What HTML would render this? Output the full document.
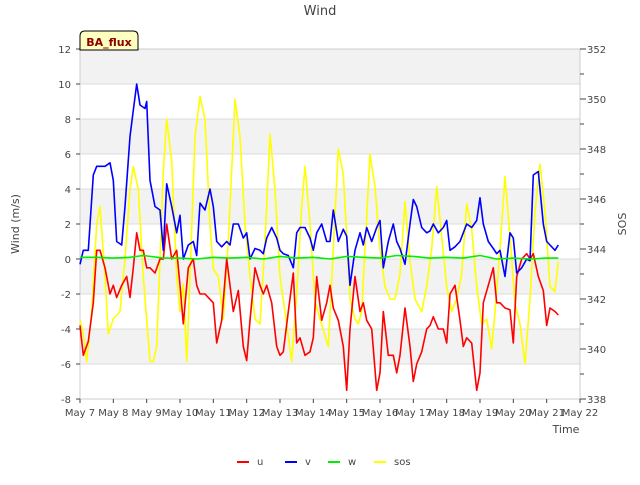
<!DOCTYPE html>
<html><head><meta charset="utf-8">
<style>
body{margin:0;background:#fff;font-family:"Liberation Sans","DejaVu Sans",sans-serif;}
svg text{font-family:"DejaVu Sans","Liberation Sans",sans-serif;}
</style></head>
<body>
<svg id="chart" width="640" height="480" xmlns="http://www.w3.org/2000/svg">
<rect width="640" height="480" fill="#fff"/>
<g id="bands"></g>
<g id="grid"></g>
<rect x="80" y="49" width="500" height="350" fill="none" stroke="#ccc"/>
<g id="series"></g>
<g id="axes"></g>
<text x="320" y="15" text-anchor="middle" font-size="13" fill="#444">Wind</text>
<text x="566" y="433" text-anchor="middle" font-size="11" fill="#444">Time</text>
<text x="19" y="224" text-anchor="middle" font-size="11" fill="#444" transform="rotate(-90 19 224)">Wind (m/s)</text>
<text x="626" y="224" text-anchor="middle" font-size="11" fill="#444" transform="rotate(-90 626 224)">SOS</text>
<g>
<path d="M80 50 L80 36 Q80 31 85 31 L133 31 Q138 31 138 36 L138 50 Z" fill="#ffffc0" stroke="#000"/>
<text x="109" y="46" text-anchor="middle" font-size="11" font-weight="bold" fill="#8b0000">BA_flux</text>
</g>
<g id="legend"></g>
</svg>
<script>
const uDays=[7.0,7.1,7.25,7.4,7.5,7.6,7.75,7.9,8.0,8.1,8.25,8.4,8.5,8.6,8.7,8.8,8.9,9.0,9.1,9.25,9.4,9.5,9.6,9.75,9.9,10.0,10.1,10.25,10.4,10.5,10.6,10.75,10.9,11.0,11.1,11.25,11.4,11.5,11.6,11.75,11.9,12.0,12.1,12.25,12.4,12.5,12.6,12.75,12.9,13.0,13.1,13.25,13.4,13.5,13.6,13.75,13.9,14.0,14.1,14.25,14.4,14.5,14.6,14.75,14.9,15.0,15.1,15.25,15.4,15.5,15.6,15.75,15.9,16.0,16.1,16.25,16.4,16.5,16.6,16.75,16.9,17.0,17.1,17.25,17.4,17.5,17.6,17.75,17.9,18.0,18.1,18.25,18.4,18.5,18.6,18.75,18.9,19.0,19.1,19.25,19.4,19.5,19.6,19.75,19.9,20.0,20.1,20.25,20.4,20.5,20.6,20.75,20.9,21.0,21.1,21.25,21.35];
const uVals=[-3.8,-5.5,-4.7,-2.5,0.5,0.5,-0.5,-2,-1.5,-2.2,-1.5,-1,-2.2,-0.5,1.5,0.5,0.5,-0.5,-0.5,-0.8,0,0,2,0,0.5,-1.5,-3.7,-0.5,0,-1.5,-2,-2,-2.3,-2.5,-4.8,-3.5,0,-1.5,-3,-1.8,-5,-5.8,-3.5,-0.5,-1.5,-2,-1.5,-2.5,-5,-5.5,-5.3,-3,-0.8,-4.8,-4.5,-5.5,-5.3,-4.5,-1,-3.5,-2.5,-1.5,-2.8,-3.5,-5,-7.5,-4,-1,-3,-2.5,-3.5,-4,-7.5,-6.5,-3,-5.5,-5.5,-6.5,-5.5,-2.8,-5,-7,-6,-5.3,-4,-3.8,-3.3,-4,-4,-4.8,-2,-1.5,-3.5,-5,-4.5,-4.8,-7.5,-6.5,-2.5,-1.5,-0.5,-2.5,-2.5,-2.8,-2.9,-4.8,-1,0,0.3,0,0.3,-1,-1.8,-3.8,-2.8,-3,-3.2];
const vDays=[7.0,7.1,7.25,7.4,7.5,7.75,7.9,8.0,8.1,8.25,8.35,8.5,8.6,8.7,8.8,8.95,9.0,9.1,9.25,9.4,9.5,9.6,9.75,9.9,10.0,10.1,10.25,10.4,10.5,10.6,10.75,10.9,11.0,11.1,11.25,11.4,11.5,11.6,11.75,11.9,12.0,12.1,12.25,12.4,12.5,12.6,12.75,12.9,13.0,13.1,13.25,13.4,13.5,13.6,13.75,13.9,14.0,14.1,14.25,14.4,14.5,14.6,14.75,14.9,15.0,15.1,15.25,15.4,15.5,15.6,15.75,15.9,16.0,16.1,16.25,16.4,16.5,16.6,16.75,16.9,17.0,17.1,17.25,17.4,17.5,17.6,17.75,17.9,18.0,18.1,18.25,18.4,18.5,18.6,18.75,18.9,19.0,19.1,19.25,19.4,19.5,19.6,19.75,19.9,20.0,20.1,20.25,20.4,20.5,20.6,20.75,20.9,21.0,21.1,21.25,21.35];
const vVals=[-0.3,0.5,0.5,4.8,5.3,5.3,5.5,4.5,1,0.8,3,7,8.5,10,8.8,8.6,9,4.5,3,2.8,0.5,4.3,3,1.5,2.5,0,0.8,1,0.2,3.2,2.8,4,3,1,0.7,1,0.8,2,2,1.2,1.5,0,0.6,0.5,0.3,1.2,1.8,1.2,0.5,0.3,0.2,-0.5,1.5,1.8,1.8,1.2,0.5,1.5,2,1,1,2.8,1,1.7,1.3,-1.5,0.5,1.5,0.8,1.8,1,1.8,2.2,-0.5,1,2,1,0.6,-0.3,2,3.4,3,1.8,1.5,1.6,2,1.5,1.8,2.2,0.5,0.7,1,1.5,2,1.8,2.2,3.5,2,1,0.6,0.3,0.5,-1,1.5,1.2,-0.8,-0.5,0,-0.1,4.8,5,2,1,0.8,0.5,0.8];
const wDays=[7.0,7.5,8.0,8.5,8.9,9.5,10.0,10.5,11.0,11.5,12.0,12.5,13.0,13.5,14.0,14.5,15.0,15.5,16.0,16.5,17.0,17.5,18.0,18.5,19.0,19.5,20.0,20.5,21.0,21.35];
const wVals=[0.1,0.1,0.05,0.1,0.2,0.05,0.05,0.0,0.1,0.05,0.1,0.0,0.15,0.05,0.1,0.0,0.15,0.1,0.05,0.2,0.15,0.05,0.1,0.05,0.2,0.0,0.05,0.0,0.05,0.05];
const sDays=[7.0,7.1,7.2,7.35,7.5,7.6,7.75,7.85,8.0,8.2,8.35,8.5,8.6,8.75,8.9,9.1,9.2,9.3,9.4,9.5,9.6,9.75,9.9,10.0,10.1,10.2,10.3,10.45,10.6,10.75,10.9,11.0,11.15,11.3,11.45,11.6,11.65,11.8,11.95,12.1,12.25,12.4,12.55,12.7,12.85,13.0,13.2,13.35,13.5,13.65,13.75,13.9,14.05,14.2,14.45,14.6,14.75,14.9,15.0,15.1,15.25,15.35,15.45,15.55,15.7,15.85,16.0,16.15,16.3,16.45,16.6,16.75,16.9,17.05,17.25,17.4,17.55,17.7,17.85,18.0,18.15,18.3,18.45,18.6,18.75,18.9,19.05,19.2,19.35,19.45,19.6,19.75,19.9,20.05,20.2,20.35,20.5,20.65,20.8,20.95,21.1,21.25,21.35];
const sVals=[341.15,340.6,339.5,341.5,345,345.7,342.9,340.6,341.2,341.5,343.6,346.4,347.3,346.4,342.9,339.5,339.5,340.1,343.6,347.1,349.2,347.5,342.9,341.5,342.6,339.5,342.9,348.5,350.1,349.2,345,343.2,342.9,341.2,344.3,348.5,350,348.5,345,342.9,341.2,341,344.3,348.6,346.4,342.9,341,339.5,342.2,345.7,347.3,345,341.9,341.2,340.1,344,348,347,344.5,342,341.2,341,341.5,344,347.8,346.5,344,342.5,342,342,343,345.9,343.5,342,341.5,342.5,344,346.5,344.5,342.5,341.5,342,343,345.8,344.8,342.5,341,341.2,340,341.5,344,346.9,344.5,341.8,341,339.4,342,345.5,347.4,345.5,342.5,342.3,343.5];
const yTicks=[-8,-6,-4,-2,0,2,4,6,8,10,12];
const y2Ticks=[338,340,342,344,346,348,350,352];
const xTickLabels=["May 7","May 8","May 9","May 10","May 11","May 12","May 13","May 14","May 15","May 16","May 17","May 18","May 19","May 20","May 21","May 22"];

const NS="http://www.w3.org/2000/svg";
const X0=80,X1=580,Y0=49,Y1=399;
function xs(d){return X0+(d-7)*(X1-X0)/15;}
function ys(v){return Y1-(v+8)*(Y1-Y0)/20;}
function ys2(v){return Y1-(v-338)*(Y1-Y0)/14;}
function mk(tag,attrs,parent){const e=document.createElementNS(NS,tag);for(const k in attrs)e.setAttribute(k,attrs[k]);parent.appendChild(e);return e;}
const bands=document.getElementById('bands'),grid=document.getElementById('grid'),axes=document.getElementById('axes'),series=document.getElementById('series'),legend=document.getElementById('legend');
for(let v=12;v>-8;v-=4){
  const b=mk('rect',{x:X0,y:ys(v),width:X1-X0,height:ys(v-2)-ys(v),fill:'#f2f2f2'},bands);
  
  
}
yTicks.forEach(t=>{
  const y=ys(t);
  const g=mk('line',{x1:X0,x2:X1,y1:y,y2:y,stroke:'#dcdcdc'},grid);
  
  
  mk('line',{x1:X0-4,x2:X0,y1:y,y2:y,stroke:'#444'},axes);
  const tx=mk('text',{x:X0-9,y:y+4,'text-anchor':'end','font-size':10,fill:'#444'},axes);
  tx.textContent=t;
  
  
});
for(let v=338;v<=352;v++){
  const y=ys2(v);
  mk('line',{x1:X1,x2:X1+(v%2?4:6),y1:y,y2:y,stroke:'#444'},axes);
}
y2Ticks.forEach(t=>{
  const tx=mk('text',{x:X1+7,y:ys2(t)+4,'font-size':10,fill:'#444'},axes);
  tx.textContent=t;
  
  
});
xTickLabels.forEach((l,i)=>{
  const x=xs(7+i);
  mk('line',{x1:x,x2:x,y1:Y1,y2:Y1+4,stroke:'#444'},axes);
  const tx=mk('text',{x:x,y:Y1+17,'text-anchor':'middle','font-size':10,fill:'#444'},axes);
  tx.textContent=l;
  
  
});
function line(days,vals,sc,color,name){
  const pts=days.map((d,i)=>xs(d).toFixed(1)+','+sc(vals[i]).toFixed(1)).join(' ');
  const p=mk('polyline',{points:pts,fill:'none',stroke:color,'stroke-width':1.6,'stroke-linejoin':'round'},series);
  
  
}
line(sDays,sVals,ys2,'#ffff00','sos-line');
line(uDays,uVals,ys,'#ff0000','u-line');
line(vDays,vVals,ys,'#0000ff','v-line');
line(wDays,wVals,ys,'#00ee00','w-line');
[['u','#ff0000',237],['v','#0000ff',285],['w','#00ee00',328],['sos','#ffff00',374]].forEach(([n,c,x])=>{
  const g=mk('g',{},legend);
  
  
  mk('line',{x1:x,x2:x+12,y1:462,y2:462,stroke:c,'stroke-width':2},g);
  const t=mk('text',{x:x+20,y:465,'font-size':10,fill:'#444'},g);
  t.textContent=n;
});
</script>
</body></html>
